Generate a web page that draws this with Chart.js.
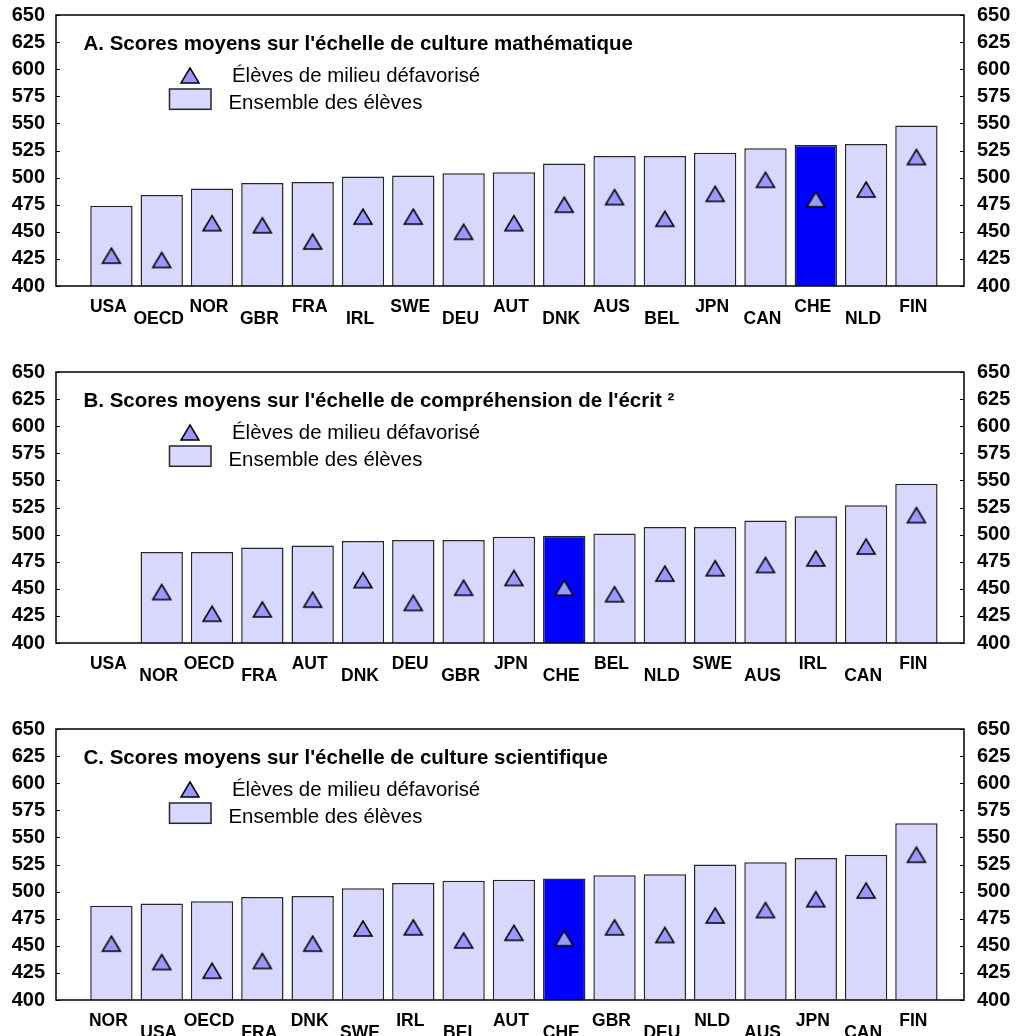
<!DOCTYPE html>
<html lang="fr">
<head>
<meta charset="utf-8">
<title>Scores moyens PISA – élèves de milieu défavorisé</title>
<script src="https://cdn.jsdelivr.net/npm/chart.js@4.4.1/dist/chart.umd.min.js"></script>
<style>
  html, body { margin: 0; padding: 0; background: #fff; overflow: hidden; }
  #wrap { width: 1016px; height: 1036px; overflow: hidden; }
  canvas { display: block; }
</style>
</head>
<body>
<div id="wrap">
  <canvas id="panelA" width="1016" height="357"></canvas>
  <canvas id="panelB" width="1016" height="357"></canvas>
  <canvas id="panelC" width="1016" height="357"></canvas>
</div>
<script>
// ---- Data ----------------------------------------------------------------
const seriesAllLabel = 'Ensemble des élèves';
const seriesLowLabel = 'Élèves de milieu défavorisé';

// A. Mathématiques
const mathTitle = "A. Scores moyens sur l'échelle de culture mathématique";
const mathCountries = ['USA', 'OECD', 'NOR', 'GBR', 'FRA', 'IRL', 'SWE', 'DEU', 'AUT', 'DNK', 'AUS', 'BEL', 'JPN', 'CAN', 'CHE', 'NLD', 'FIN'];
const mathAll = [474, 484, 490, 495, 496, 501, 502, 504, 505, 513, 520, 520, 523, 527, 530, 531, 548];
const mathLow = [428, 424, 458, 456, 441, 464, 464, 450, 458, 475, 482, 462, 485, 498, 480, 489, 519];

// B. Compréhension de l'écrit (pas de score pour les États-Unis)
const readTitle = "B. Scores moyens sur l'échelle de compréhension de l'écrit ²";
const readCountries = ['USA', 'NOR', 'OECD', 'FRA', 'AUT', 'DNK', 'DEU', 'GBR', 'JPN', 'CHE', 'BEL', 'NLD', 'SWE', 'AUS', 'IRL', 'CAN', 'FIN'];
const readAll = [null, 484, 484, 488, 490, 494, 495, 495, 498, 499, 501, 507, 507, 513, 517, 527, 547];
const readLow = [null, 447, 427, 431, 440, 458, 437, 451, 460, 451, 445, 464, 469, 472, 478, 489, 518];

// C. Sciences
const sciTitle = "C. Scores moyens sur l'échelle de culture scientifique";
const sciCountries = ['NOR', 'USA', 'OECD', 'FRA', 'DNK', 'SWE', 'IRL', 'BEL', 'AUT', 'CHE', 'GBR', 'DEU', 'NLD', 'AUS', 'JPN', 'CAN', 'FIN'];
const sciAll = [487, 489, 491, 495, 496, 503, 508, 510, 511, 512, 515, 516, 525, 527, 531, 534, 563];
const sciLow = [452, 435, 427, 436, 452, 466, 467, 455, 462, 457, 467, 460, 478, 483, 493, 501, 534];

const highlight = 'CHE';
const yMin = 400, yMax = 650, yStep = 25;

// ---- Styling ---------------------------------------------------------------
const FONT = '"Liberation Sans", Arial, Helvetica, sans-serif';
const BAR_FILL = '#D8D8FF';
const BAR_HIGHLIGHT = '#0000FF';
const BAR_EDGE = '#262626';
const TRI_FILL = '#9999FF';

// Triangle marker, centred on its bounding box
function makeTriangle() {
  const c = document.createElement('canvas');
  c.width = 22; c.height = 19;
  const g = c.getContext('2d');
  g.beginPath();
  g.moveTo(11, 2);
  g.lineTo(20, 17);
  g.lineTo(2, 17);
  g.closePath();
  g.fillStyle = TRI_FILL;
  g.fill();
  g.lineWidth = 1.5;
  g.strokeStyle = '#000';
  g.lineJoin = 'miter';
  g.stroke();
  return c;
}
const triangle = makeTriangle();

// Frame, inward tick marks, panel title and in-plot legend
const panelDecor = {
  id: 'panelDecor',
  afterDatasetsDraw(chart, args, opts) {
    const { ctx, chartArea: a, scales } = chart;
    ctx.save();
    ctx.strokeStyle = '#000';
    ctx.lineWidth = 1.5;
    ctx.strokeRect(a.left, a.top, a.right - a.left, a.bottom - a.top);

    ctx.lineWidth = 1;
    ctx.beginPath();
    scales.y.ticks.forEach(t => {
      const p = Math.round(scales.y.getPixelForValue(t.value)) + 0.5;
      ctx.moveTo(a.left, p); ctx.lineTo(a.left + 4, p);
      ctx.moveTo(a.right - 4, p); ctx.lineTo(a.right, p);
    });
    ctx.stroke();

    ctx.fillStyle = '#000';
    ctx.textAlign = 'left';
    ctx.textBaseline = 'alphabetic';
    ctx.font = `bold 20.5px ${FONT}`;
    ctx.fillText(opts.title, a.left + 27.5, a.top + 34.5);

    const bars = chart.data.datasets.find(d => d.type === 'bar');
    const pts = chart.data.datasets.find(d => d.type === 'line');

    // triangle entry
    ctx.drawImage(triangle, a.left + 134 - triangle.width / 2, a.top + 60.5 - triangle.height / 2);
    ctx.font = `20.4px ${FONT}`;
    ctx.fillText(pts.label, a.left + 176, a.top + 66.7);

    // bar entry
    ctx.fillStyle = BAR_FILL;
    ctx.fillRect(a.left + 113.5, a.top + 74, 41.5, 20.3);
    ctx.strokeStyle = BAR_EDGE;
    ctx.lineWidth = 1.5;
    ctx.strokeRect(a.left + 113.5, a.top + 74, 41.5, 20.3);
    ctx.fillStyle = '#000';
    ctx.fillText(bars.label, a.left + 172.5, a.top + 94);
    ctx.restore();
  }
};

// fixed axis widths, no extra label padding above/below the value axes
const fixY = w => s => { s.width = w; s.paddingTop = 0; s.paddingBottom = 0; };

function buildPanel(canvasId, title, countries, allScores, lowScores) {
  const n = countries.length;
  const yTicks = {
    stepSize: yStep,
    autoSkip: false,
    color: '#000',
    font: { family: FONT, size: 20, weight: 'bold' }
  };
  return new Chart(document.getElementById(canvasId), {
    data: {
      datasets: [
        {
          type: 'line',
          label: seriesLowLabel,
          data: lowScores.map((v, i) => ({ x: i, y: v })),
          showLine: false,
          pointStyle: triangle,
          order: 0
        },
        {
          type: 'bar',
          label: seriesAllLabel,
          data: allScores.map((v, i) => ({ x: i, y: v })),
          backgroundColor: countries.map(c => c === highlight ? BAR_HIGHLIGHT : BAR_FILL),
          borderColor: BAR_EDGE,
          borderWidth: 1.5,
          barPercentage: 0.842,
          categoryPercentage: 1,
          order: 1
        }
      ]
    },
    options: {
      responsive: false,
      animation: false,
      devicePixelRatio: 1,
      layout: { padding: { top: 15, left: 0, right: 0, bottom: 0 } },
      plugins: {
        legend: { display: false },
        tooltip: { enabled: false },
        panelDecor: { title }
      },
      scales: {
        x: {
          type: 'linear',
          min: -0.5705,
          max: n - 1 + 0.415,
          afterBuildTicks: s => { s.ticks = countries.map((_, i) => ({ value: i })); },
          afterFit: s => { s.height = 71; s.paddingLeft = 0; s.paddingRight = 0; },
          grid: { display: false, drawTicks: false },
          border: { display: false },
          ticks: {
            autoSkip: false,
            maxRotation: 0,
            minRotation: 0,
            padding: 15.5,
            labelOffset: -3,
            color: '#000',
            font: { family: FONT, size: 17.5, weight: 'bold', lineHeight: 0.67 },
            callback: (v, i) => (i % 2 ? ['', countries[i]] : countries[i])
          }
        },
        y: {
          position: 'left',
          min: yMin, max: yMax,
          afterFit: fixY(56),
          grid: { display: false, drawTicks: false },
          border: { display: false },
          ticks: { ...yTicks, padding: 11 }
        },
        y2: {
          position: 'right',
          min: yMin, max: yMax,
          afterFit: fixY(52),
          grid: { display: false, drawTicks: false },
          border: { display: false },
          ticks: { ...yTicks, padding: 13 }
        }
      }
    },
    plugins: [panelDecor]
  });
}

buildPanel('panelA', mathTitle, mathCountries, mathAll, mathLow);
buildPanel('panelB', readTitle, readCountries, readAll, readLow);
buildPanel('panelC', sciTitle, sciCountries, sciAll, sciLow);
</script>
</body>
</html>
